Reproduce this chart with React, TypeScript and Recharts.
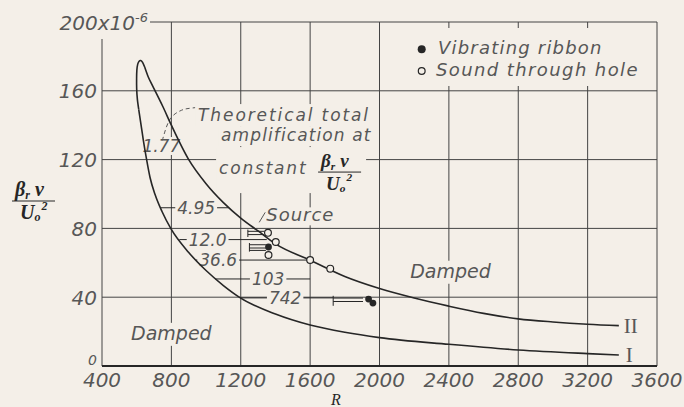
import React from 'react';
import {
  ComposedChart, Line, Scatter, XAxis, YAxis, CartesianGrid,
  ReferenceLine, ReferenceDot, Legend,
} from 'recharts';

const BG = '#f4efe8';
const INK = '#262626';
const GRID = '#444444';
const TXT = '#575757';
const SANS = '"DejaVu Sans", sans-serif';
const SERIF = '"Liberation Serif", "DejaVu Serif", serif';

document.body.style.margin = '0';
document.body.style.background = BG;

const xTicks = [400, 800, 1200, 1600, 2000, 2400, 2800, 3200, 3600];
const yTicks = [0, 40, 80, 120, 160, 200];

// nose of the neutral curve (joins branch I to branch II)
const noseR = [612, 604, 600, 599.5, 601, 606, 614, 623, 634, 646];
const noseB = [149, 155, 161, 167, 172, 175.5, 177.2, 177.6, 176.5, 173.8];

// branch I (lower)
const curveIR = [612, 629, 638, 657, 677, 706, 746, 798, 900, 1000, 1100, 1200, 1400, 1600, 1800, 2000, 2400, 2800, 3200, 3380];
const curveIB = [149, 137.6, 131.5, 120.1, 109.6, 99.7, 89.8, 79.7, 66, 55.5, 46.8, 39.5, 30.2, 23.8, 19.6, 16.5, 12.6, 9.3, 7.2, 6.4];

// branch II (upper)
const curveIIR = [646, 665, 686, 706, 750, 800, 900, 1000, 1100, 1200, 1300, 1400, 1600, 1800, 2000, 2200, 2400, 2600, 2800, 3000, 3200, 3380];
const curveIIB = [173.8, 168.5, 164, 160, 151, 140, 120, 106, 95, 86, 78.5, 71, 61.5, 52, 45, 39.5, 34.8, 30.6, 27.4, 25.6, 24.3, 23.5];

// measurements
const ribbonR = [1360, 1937, 1962];
const ribbonB = [69.2, 38.9, 36.6];
const holeR = [1357, 1402, 1360, 1600, 1716];
const holeB = [77.4, 72.1, 64.5, 61.6, 56.6];

// constant-beta amplification lines
const ampLabels = ['1.77', '4.95', '12.0', '36.6', '103', '742'];
const ampB = [127.9, 92, 73.5, 61.6, 50.6, 39.6];
const ampFrom = [640, 740, 846, 942, 1052, 1197];
const ampTo = [858, 1130, 1350, 1600, 1600, 1733];
const ampAt = [742, 943, 1009, 1070, 1358, 1456];

// range brackets next to the points
const bracketR = [1241, 1250, 1733];
const bracketEnd = [1335, 1345, 1905];
const bracketLo = [75, 66.5, 35];
const bracketHi = [79.3, 71.5, 40.8];
const bracketRungs = [[78.3, 76.4], [70.5, 68.6, 67.2], [39.5, 37.5]];

// dashed leader from the note to the 1.77 line
const leaderR = [946, 890, 850, 792, 756, 746];
const leaderB = [150.3, 149.6, 148.3, 143.4, 134, 131];

const pts = (rs: number[], bs: number[]) => rs.map((r, i) => ({ r, b: bs[i] }));

const noteText = { fontFamily: SANS, fontStyle: 'italic', fill: TXT } as const;

const XTick = ({ x, payload }: any) => (
  <text x={x} y={387} textAnchor="middle" fontSize={20} {...noteText}>{payload.value}</text>
);

const YTick = ({ y, payload }: any) => {
  if (payload.value === 200) {
    return (
      <g>
        <rect x={52} y={6} width={98} height={33} fill={BG} />
        <text x={148} y={30} textAnchor="end" fontSize={20} {...noteText}>
          200x10<tspan fontSize={13} dy={-8}>-6</tspan>
        </text>
      </g>
    );
  }
  if (payload.value === 0) {
    return <text x={97} y={365} textAnchor="end" fontSize={14} {...noteText}>0</text>;
  }
  return <text x={97} y={y + 7.5} textAnchor="end" fontSize={20} {...noteText}>{payload.value}</text>;
};

const Fraction = ({ x, y, size }: any) => (
  <g fontFamily={SERIF} fontStyle="italic" fontWeight="bold" fill={INK}>
    <text x={x + 3} y={y - 4} fontSize={size}>
      β<tspan fontSize={size * 0.6} dy={3}>r</tspan><tspan dx={5} dy={-3}>ν</tspan>
    </text>
    <line x1={x} x2={x + 43} y1={y + 1} y2={y + 1} stroke={INK} strokeWidth={1} />
    <text x={x + 8} y={y + 19} fontSize={size}>
      U<tspan fontSize={size * 0.6} dy={2}>o</tspan><tspan fontSize={size * 0.6} dx={1} dy={-11}>2</tspan>
    </text>
  </g>
);

const AmpLabel = (p: any) => {
  const vb = p.viewBox || p;
  const cx = vb.x + p.frac * vb.width;
  const cy = vb.y;
  const digits = p.text.replace('.', '').length;
  const w = digits * 0.636 * 17 + (p.text.includes('.') ? 5.4 : 0) + 4;
  return (
    <g>
      <rect x={cx - w / 2} y={cy - 9} width={w} height={18} fill={BG} />
      <text x={cx} y={cy + 6} textAnchor="middle" fontSize={17} {...noteText}>{p.text}</text>
    </g>
  );
};

const TheoryNote = ({ cx, cy }: any) => (
  <g>
    <rect x={cx - 3} y={cy - 17} width={181} height={22} fill={BG} />
    <rect x={cx + 20} y={cy + 5} width={158} height={20} fill={BG} />
    <rect x={cx + 18} y={cy + 26} width={150} height={46} fill={BG} />
    <text x={cx} y={cy} fontSize={17} letterSpacing={1.9} {...noteText}>Theoretical total</text>
    <text x={cx + 23} y={cy + 20} fontSize={17} letterSpacing={1.1} {...noteText}>amplification at</text>
    <text x={cx + 21} y={cy + 53} fontSize={17} letterSpacing={1.8} {...noteText}>constant</text>
    <Fraction x={cx + 120} y={cy + 50} size={19} />
  </g>
);

const SourceNote = ({ cx, cy }: any) => (
  <g>
    <rect x={cx - 3} y={cy - 14} width={74} height={18} fill={BG} />
    <line x1={cx - 6} y1={cy + 1} x2={cx} y2={cy - 9} stroke={TXT} strokeWidth={1} />
    <text x={cx + 1} y={cy} fontSize={18} letterSpacing={1} {...noteText}>Source</text>
  </g>
);

const DampedNote = ({ cx, cy }: any) => (
  <g>
    <rect x={cx - 41} y={cy - 11} width={82} height={23} fill={BG} />
    <text x={cx} y={cy + 6} textAnchor="middle" fontSize={19} {...noteText}>Damped</text>
  </g>
);

const RomanNote = (text: string, dx: number) => ({ cx, cy }: any) => (
  <text x={cx + dx} y={cy + 7.5} fontFamily={SERIF} fontSize={21} fill={TXT}>{text}</text>
);

const LegendBox = () => (
  <svg width={236} height={58} style={{ display: 'block' }}>
    <circle cx={9.7} cy={21.3} r={4} fill={INK} />
    <text x={26} y={26} fontSize={18} letterSpacing={1.2} {...noteText}>Vibrating ribbon</text>
    <circle cx={9.7} cy={43} r={3.4} fill={BG} stroke={INK} strokeWidth={1.2} />
    <text x={24} y={48} fontSize={18} letterSpacing={1.4} {...noteText}>Sound through hole</text>
  </svg>
);

const filledDot = (p: any) => <circle cx={p.cx} cy={p.cy} r={3.4} fill={INK} />;
const openDot = (p: any) => <circle cx={p.cx} cy={p.cy} r={3.4} fill={BG} stroke={INK} strokeWidth={1.2} />;

export default function App() {
  return (
    <div style={{ width: 684, height: 407, background: BG }}>
      <ComposedChart width={684} height={407} margin={{ top: 22, right: 27, bottom: 0, left: 0 }}>
        <CartesianGrid stroke={GRID} strokeWidth={1} />
        <XAxis dataKey="r" type="number" domain={[400, 3600]} ticks={xTicks} interval={0} height={41}
          axisLine={{ stroke: INK, strokeWidth: 2 }} tickLine={false} tick={<XTick />}
          label={() => (
            <text x={336} y={405} textAnchor="middle" fontFamily={SERIF} fontStyle="italic" fontSize={16} fill={INK}>R</text>
          )} />
        <YAxis dataKey="b" type="number" domain={[0, 200]} ticks={yTicks} interval={0} width={102}
          axisLine={false} tickLine={false} tick={<YTick />}
          label={() => <Fraction x={12} y={200} size={20} />} />
        <Legend layout="vertical" align="center" verticalAlign="middle" content={() => <LegendBox />}
          wrapperStyle={{ left: 412, top: 28, width: 236, height: 58, background: BG }} />

        <ReferenceDot x={954} y={142.4} r={0} ifOverflow="visible" shape={(p: any) => <TheoryNote {...p} />} />
        <ReferenceDot x={1341} y={84.1} r={0} ifOverflow="visible" shape={(p: any) => <SourceNote {...p} />} />
        <ReferenceDot x={800} y={18.7} r={0} ifOverflow="visible" shape={(p: any) => <DampedNote {...p} />} />
        <ReferenceDot x={2409} y={54.8} r={0} ifOverflow="visible" shape={(p: any) => <DampedNote {...p} />} />
        <ReferenceDot x={3380} y={23.5} r={0} ifOverflow="visible" shape={RomanNote('II', 5)} />
        <ReferenceDot x={3380} y={6.4} r={0} ifOverflow="visible" shape={RomanNote('I', 7)} />

        {ampLabels.map((lab, i) => (
          <ReferenceLine key={'amp' + i} ifOverflow="visible" stroke={INK} strokeWidth={1}
            segment={[{ x: ampFrom[i], y: ampB[i] }, { x: ampTo[i], y: ampB[i] }]}
            label={(p: any) => <AmpLabel {...p} text={lab} frac={(ampAt[i] - ampFrom[i]) / (ampTo[i] - ampFrom[i])} />} />
        ))}
        {bracketR.map((r, i) => (
          <ReferenceLine key={'bv' + i} ifOverflow="visible" stroke={INK} strokeWidth={1}
            segment={[{ x: r, y: bracketLo[i] }, { x: r, y: bracketHi[i] }]} />
        ))}
        {bracketR.map((r, i) => bracketRungs[i].map((b, j) => (
          <ReferenceLine key={'bh' + i + '-' + j} ifOverflow="visible" stroke={INK} strokeWidth={1}
            segment={[{ x: r, y: b }, { x: bracketEnd[i], y: b }]} />
        )))}

        <Line data={pts(leaderR, leaderB)} dataKey="b" type="natural" stroke={TXT} strokeWidth={1}
          strokeDasharray="4 3" dot={false} isAnimationActive={false} legendType="none" />
        <Line data={pts(noseR, noseB)} dataKey="b" type="natural" stroke={INK} strokeWidth={1.6}
          dot={false} isAnimationActive={false} legendType="none" />
        <Line data={pts(curveIR, curveIB)} dataKey="b" type="monotone" stroke={INK} strokeWidth={1.6}
          dot={false} isAnimationActive={false} legendType="none" />
        <Line data={pts(curveIIR, curveIIB)} dataKey="b" type="monotone" stroke={INK} strokeWidth={1.6}
          dot={false} isAnimationActive={false} legendType="none" />

        <Scatter name="Sound through hole" data={pts(holeR, holeB)} dataKey="b" shape={openDot} isAnimationActive={false} />
        <Scatter name="Vibrating ribbon" data={pts(ribbonR, ribbonB)} dataKey="b" shape={filledDot} isAnimationActive={false} />
      </ComposedChart>
    </div>
  );
}
